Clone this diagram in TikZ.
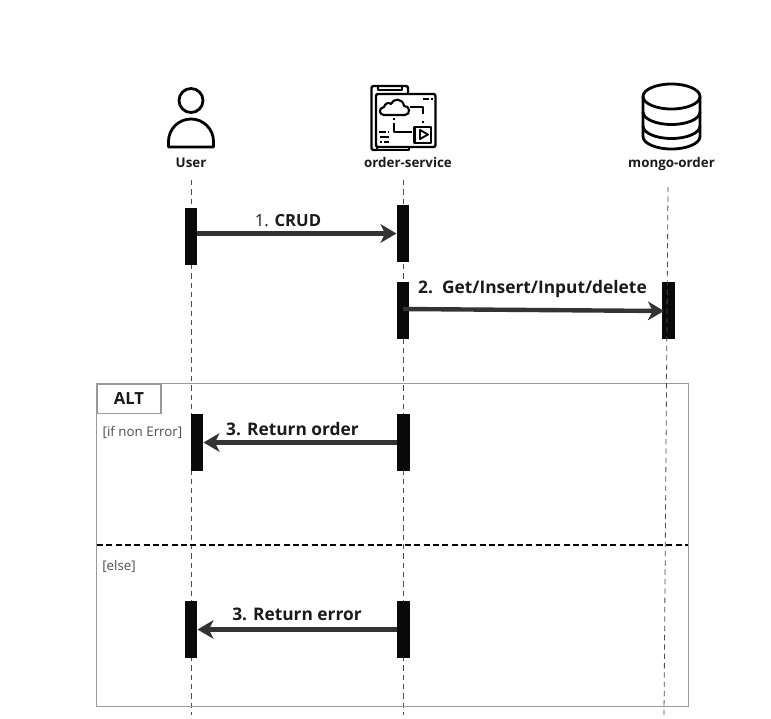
\documentclass[tikz,border=0pt]{standalone}
\usepackage{fontspec}
\setmainfont{Open Sans}
\usetikzlibrary{arrows.meta}
\definecolor{barblack}{HTML}{0A0A0A}
\definecolor{arrowgray}{HTML}{333333}
\definecolor{framegray}{HTML}{9A9A9A}
\definecolor{textblack}{HTML}{1A1A1A}
\tikzset{
	lifeline/.style={draw=black!70,line width=0.6pt,dash pattern=on 4pt off 3pt},
	activebar/.style={draw=none,fill=barblack,minimum width=9.4pt,minimum height=43pt,inner sep=0pt},
	message/.style={draw=arrowgray,line width=3.3pt,-{Stealth[length=12pt,width=14pt,inset=3.5pt]}},
	msglabel/.style={text=textblack,font=\fontsize{13}{15}\selectfont,inner sep=0pt},
	actorname/.style={text=textblack,font=\fontsize{10}{12}\selectfont\bfseries,inner sep=0pt,anchor=base},
	guardlabel/.style={text=black!70,font=\fontsize{10}{12}\selectfont,inner sep=0pt},
	iconline/.style={draw=black,line width=2.1pt,line join=round},
}
\begin{document}
\begin{tikzpicture}[x=0.75pt,y=-0.75pt]
	\useasboundingbox (0,0) rectangle (771,718);
	% lifelines
	\coordinate (usertop) at (191,180);
	\coordinate (userend) at (191,715);
	\coordinate (ordertop) at (403.5,180);
	\coordinate (orderend) at (403.5,715);
	\coordinate (mongotop) at (668,187);
	\coordinate (mongoend) at (664,715);
	\draw[lifeline] (usertop) -- (userend);
	\draw[lifeline] (ordertop) -- (orderend);
	% alt frame
	\node[draw=framegray,line width=0.8pt,minimum width=444pt,minimum height=242pt,inner sep=0pt] (altframe) at (392.5,545) {};
	\node[draw=framegray,line width=0.8pt,fill=white,minimum width=48pt,minimum height=22pt,inner sep=0pt,
		font=\fontsize{12.5}{14}\selectfont\bfseries,text=textblack] (altbox) at (129,399) {ALT};
	\node[guardlabel] (guardok) at (142.5,432.5) {[if non Error]};
	\node[guardlabel] (guardelse) at (119,566.5) {[else]};
	\coordinate (splitleft) at (97,545);
	\coordinate (splitright) at (688,545);
	\draw[black,line width=0.8pt,dash pattern=on 4.5pt off 2.5pt] (splitleft) -- (splitright);
	% activation bars
	\node[activebar] (userbara) at (191,236.5) {};
	\node[activebar] (orderbara) at (403,233.5) {};
	\node[activebar] (orderbarb) at (403,310.5) {};
	\node[activebar] (mongobar) at (668.5,310.5) {};
	\node[activebar] (userbarb) at (197,442.5) {};
	\node[activebar] (orderbarc) at (403.5,442.5) {};
	\node[activebar] (userbarc) at (191,629.5) {};
	\node[activebar] (orderbard) at (403.5,629.5) {};
	\draw[lifeline] (mongotop) -- (mongoend);
	% messages
	\draw[message] (userbara.east) ++(-1,-3) -- (orderbara.west);
	\coordinate (msgstart) at (403,309);
	\coordinate (msgend) at (664,311);
	\draw[message] (msgstart) -- (msgend);
	\draw[message] (orderbarc.west) -- (userbarb.east);
	\draw[message] (orderbard.west) -- (userbarc.east);
	\node[msglabel,font=\fontsize{12.5}{15}\selectfont] (crudlabel) at (288,221) {1. \textbf{CRUD}};
	\node[msglabel] (getlabel) at (532.5,288.5) {\textbf{2.\ \ Get/Insert/Input/delete}};
	\node[msglabel] (orderlabel) at (292.5,429) {\textbf{3. Return order}};
	\node[msglabel] (errorlabel) at (297,614) {\textbf{3. Return error}};
	% actors
	\node[actorname] (username) at (191,167) {User};
	\node[actorname] (ordername) at (408,167) {order-service};
	\node[actorname] (mongoname) at (671.5,167) {mongo-order};
	% user icon
	\draw[iconline] (191,100.5) circle (12);
	\draw[iconline] (168.5,147) -- (168.5,141.5) arc (180:360:22.5) -- (213.5,147) -- cycle;
	% service icon
	\draw[iconline,line width=1.8pt,rounded corners=1.5pt] (377,150) -- (371.5,150) -- (371.5,86) -- (408,86) -- (408,94);
	\draw[iconline,line width=1.6pt] (378,86) -- (378,90) -- (402,90) -- (402,86);
	\draw[iconline,line width=1.8pt,rounded corners=1.5pt] (376,94) rectangle (435.5,147);
	\draw[iconline,line width=1.8pt] (377,147) -- (377,150) -- (409,150) -- (409,147);
	\draw[iconline,line width=1.6pt] (384,115) .. controls (379,115) and (378,108) .. (384,107) .. controls (385,103) and (389,102) .. (391,104) .. controls (393,98) and (403,98) .. (404,106) .. controls (410,105) and (411,115) .. (405,115) -- cycle;
	\draw[iconline,line width=1.6pt] (410,107) -- (423,107) -- (423,114);
	\draw[iconline,line width=1.6pt] (423,120.5) -- (423,122.5);
	\draw[iconline,line width=1.6pt] (394,118) -- (394,120);
	\draw[iconline,line width=1.6pt] (394,123) -- (394,132) -- (412,132);
	\draw[iconline,line width=1.8pt] (414.5,127) rectangle (431,143);
	\draw[iconline,line width=1.4pt] (420,130) -- (420,139) -- (428,134.5) -- cycle;
	\draw[iconline,line width=1.3pt] (379,132) -- (386,132) (387.5,132) -- (389,132);
	\draw[iconline,line width=1.3pt] (380,137) -- (389,137);
	\draw[iconline,line width=1.3pt] (380,142) -- (382,142) (383.5,142) -- (389,142);
	\draw[iconline,line width=1.3pt] (423,99) -- (429,99) (431,99) -- (433,99);
	% database icon
	\draw[iconline] (643,96.5) -- (643,136.5) arc (180:360:28.5 and -12.5) -- (700,96.5);
	\draw[iconline] (671.5,96.5) ellipse (28.5 and 12.5);
	\draw[iconline] (643,112) arc (180:360:28.5 and -12.5);
	\draw[iconline] (643,126) arc (180:360:28.5 and -12.5);
\end{tikzpicture}
\end{document}
